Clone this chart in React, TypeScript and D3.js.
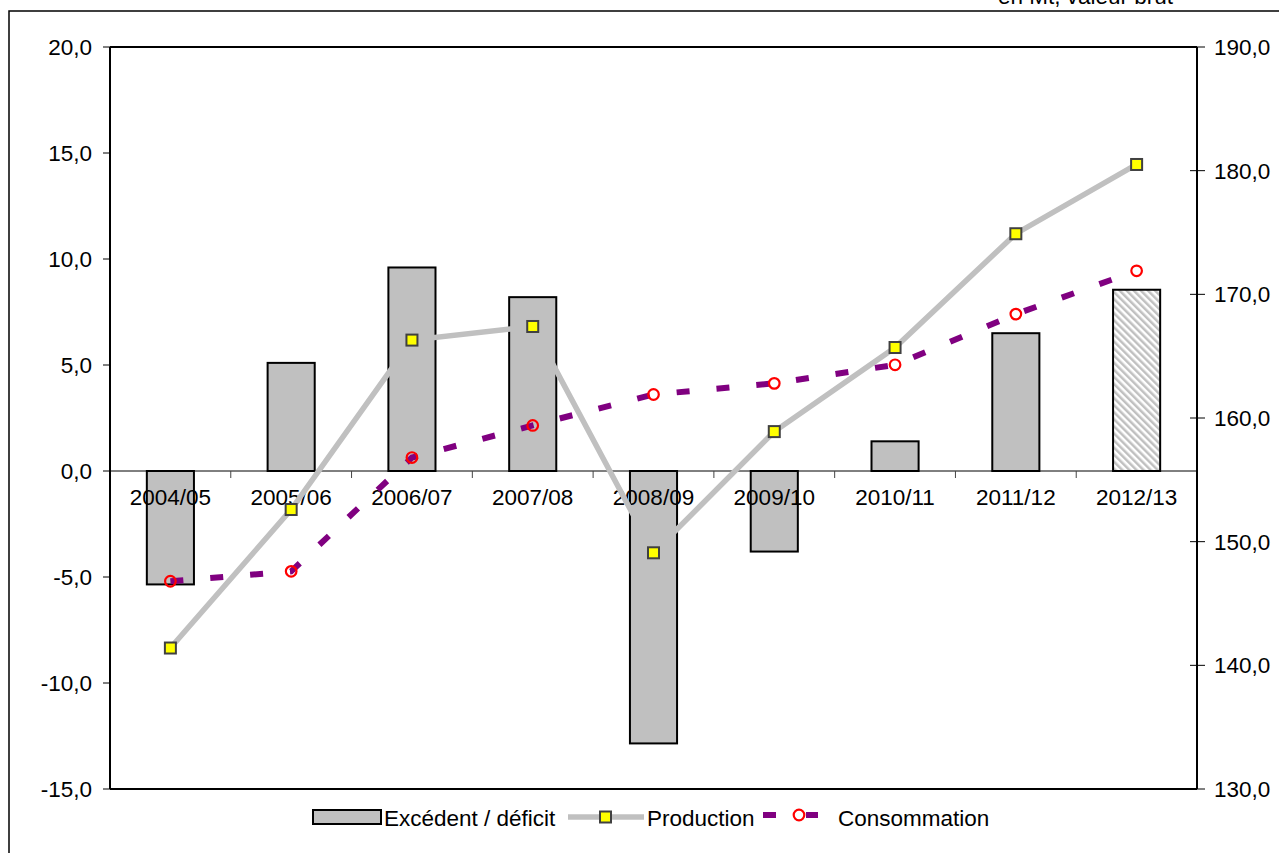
import * as d3 from 'd3'

const campaigns = ['2004/05', '2005/06', '2006/07', '2007/08', '2008/09', '2009/10', '2010/11', '2011/12', '2012/13']
const excedent = [-5.35, 5.1, 9.6, 8.2, -12.85, -3.8, 1.4, 6.5, 8.55]
const production = [141.4, 152.6, 166.3, 167.4, 149.1, 158.9, 165.7, 174.9, 180.5]
const consommation = [146.8, 147.6, 156.8, 159.4, 161.9, 162.8, 164.3, 168.4, 171.9]
const leftTicks = [-15, -10, -5, 0, 5, 10, 15, 20]
const rightTicks = [130, 140, 150, 160, 170, 180, 190]

const W = 1279
const H = 853
const plot = { left: 110, right: 1197, top: 47, bottom: 789 }
const font = 'Liberation Sans, Arial, sans-serif'
const fs = 22.5
const fmt = (v: number) => v.toFixed(1).replace('.', ',')

const App = () => {
  const x = d3.scaleBand<string>().domain(campaigns).range([plot.left, plot.right])
  const yL = d3.scaleLinear().domain([-15, 20]).range([plot.bottom, plot.top])
  const yR = d3.scaleLinear().domain([130, 190]).range([plot.bottom, plot.top])
  const cx = (c: string) => (x(c) ?? 0) + x.bandwidth() / 2
  const barW = x.bandwidth() * 0.39

  const lineGen = d3.line<number>().x((_, i) => cx(campaigns[i])).y(d => yR(d))

  return (
    <svg
      width={W}
      height={H}
      style={{ position: 'absolute', left: 0, top: 0, background: '#fff' }}
      fontFamily={font}
    >
      <defs>
        <pattern id="hatch" width={5} height={5} patternUnits="userSpaceOnUse" patternTransform="rotate(-45)">
          <rect width={5} height={5} fill="#fff" />
          <rect width={2.5} height={5} fill="#c0c0c0" />
        </pattern>
      </defs>

      <text x={1173} y={4} fontSize={fs} textAnchor="end">en Mt, valeur brut</text>
      <rect x={9} y={11} width={1400} height={1000} fill="none" stroke="#000" strokeWidth={1.5} />

      {/* bars */}
      {excedent.map((v, i) => (
        <rect
          key={i}
          x={cx(campaigns[i]) - barW / 2}
          y={yL(Math.max(0, v))}
          width={barW}
          height={Math.abs(yL(v) - yL(0))}
          fill={i === campaigns.length - 1 ? 'url(#hatch)' : '#c0c0c0'}
          stroke="#000"
          strokeWidth={2}
        />
      ))}

      {/* plot frame */}
      <line x1={plot.left} x2={plot.right} y1={plot.top} y2={plot.top} stroke="#000" strokeWidth={2} />
      <line x1={plot.left} x2={plot.right} y1={plot.bottom} y2={plot.bottom} stroke="#000" strokeWidth={2} />
      <line x1={plot.left} x2={plot.left} y1={plot.top} y2={plot.bottom} stroke="#000" strokeWidth={2} />
      <line x1={plot.right} x2={plot.right} y1={plot.top} y2={plot.bottom} stroke="#000" strokeWidth={2} />

      {/* zero axis */}
      <line x1={plot.left} x2={plot.right} y1={yL(0)} y2={yL(0)} stroke="#000" strokeWidth={1} />
      {campaigns.slice(1).map(c => (
        <line key={c} x1={x(c)} x2={x(c)} y1={yL(0)} y2={yL(0) + 7} stroke="#444" strokeWidth={1} />
      ))}
      {campaigns.map(c => (
        <text key={c} x={cx(c)} y={yL(0) + 34} fontSize={fs} textAnchor="middle">{c}</text>
      ))}

      {/* left axis */}
      {leftTicks.map(t => (
        <g key={t}>
          <line x1={plot.left - 7} x2={plot.left} y1={yL(t)} y2={yL(t)} stroke="#000" strokeWidth={1} />
          <text x={92} y={yL(t) + 8} fontSize={fs} textAnchor="end">{fmt(t)}</text>
        </g>
      ))}

      {/* right axis */}
      {rightTicks.map(t => (
        <g key={t}>
          <line x1={plot.right - 7} x2={plot.right + 8} y1={yR(t)} y2={yR(t)} stroke="#000" strokeWidth={1} />
          <text x={1214} y={yR(t) + 8} fontSize={fs}>{fmt(t)}</text>
        </g>
      ))}

      {/* production */}
      <path d={lineGen(production) ?? ''} fill="none" stroke="#c0c0c0" strokeWidth={5.5} />
      {production.map((v, i) => (
        <rect
          key={i}
          x={cx(campaigns[i]) - 5.5}
          y={yR(v) - 5.5}
          width={11}
          height={11}
          fill="#ffff00"
          stroke="#404040"
          strokeWidth={2}
        />
      ))}

      {/* consommation */}
      <path d={lineGen(consommation) ?? ''} fill="none" stroke="#800080" strokeWidth={6} strokeDasharray="13 27" />
      {consommation.map((v, i) => (
        <circle key={i} cx={cx(campaigns[i])} cy={yR(v)} r={5.3} fill="none" stroke="#ff0000" strokeWidth={2.2} />
      ))}

      {/* legend */}
      <g fontSize={fs}>
        <rect x={313} y={810} width={68} height={14} fill="#c0c0c0" stroke="#000" strokeWidth={2} />
        <text x={384} y={826}>Excédent / déficit</text>
        <line x1={568} x2={644} y1={817} y2={817} stroke="#c0c0c0" strokeWidth={5.5} />
        <rect x={600} y={811.5} width={11} height={11} fill="#ffff00" stroke="#404040" strokeWidth={2} />
        <text x={647} y={826}>Production</text>
        <line x1={763} x2={776} y1={815} y2={815} stroke="#800080" strokeWidth={6} />
        <line x1={806} x2={818} y1={815} y2={815} stroke="#800080" strokeWidth={6} />
        <circle cx={799} cy={815} r={5.3} fill="none" stroke="#ff0000" strokeWidth={2.2} />
        <text x={838} y={826}>Consommation</text>
      </g>
    </svg>
  )
}

export default App
